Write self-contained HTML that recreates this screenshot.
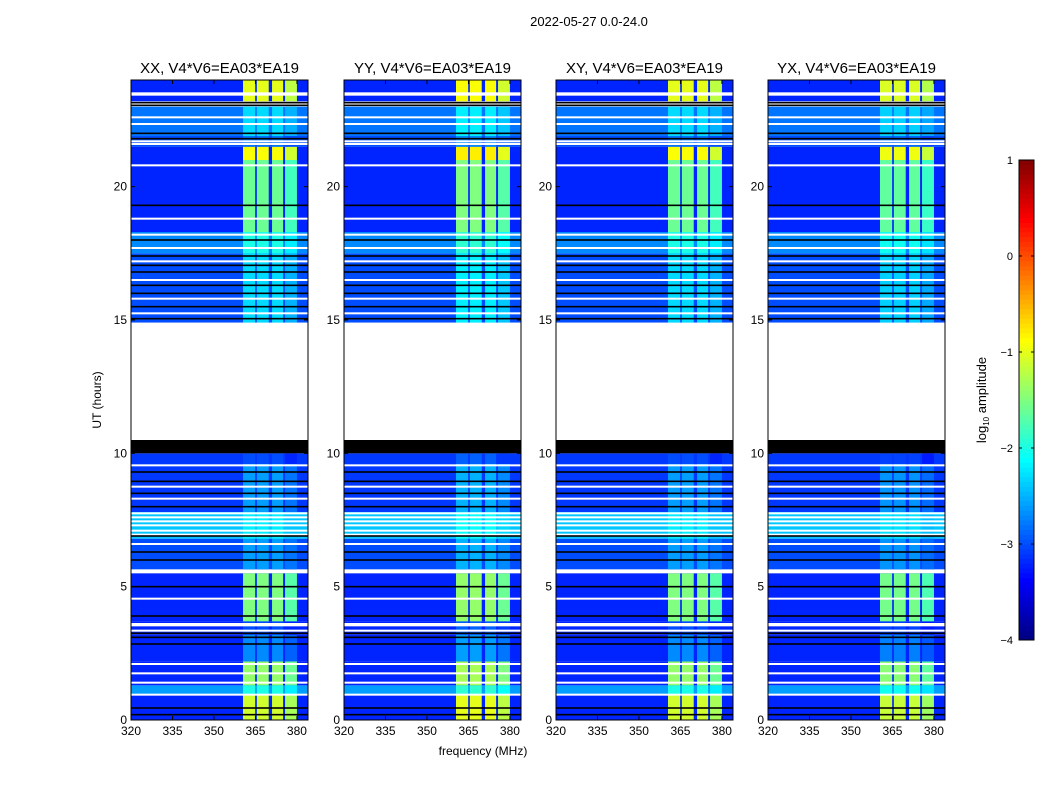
<!DOCTYPE html>
<html><head><meta charset="utf-8"><style>
html,body{margin:0;padding:0;background:#fff;}
svg{display:block;font-family:"Liberation Sans",sans-serif;}
</style></head><body>
<svg id="fig" width="1050" height="800" viewBox="0 0 1050 800">
<text x="589" y="26" font-size="13" text-anchor="middle">2022-05-27 0.0-24.0</text>
<text x="483" y="755" font-size="12" text-anchor="middle">frequency (MHz)</text>
<text transform="translate(101,400) rotate(-90)" font-size="12" text-anchor="middle">UT (hours)</text>
<g id="panels"></g>
<g id="cbar"></g>
</svg>
<script>
// ---- data ----
const panelTitles = ["XX, V4*V6=EA03*EA19","YY, V4*V6=EA03*EA19","XY, V4*V6=EA03*EA19","YX, V4*V6=EA03*EA19"];
const panelOffsets = [0, 0.1, 0, -0.05];
// time segments: start hour, end hour, background log amp, band log amp
const segStart = [0.0, 0.95, 1.3, 2.2, 3.2, 3.7, 5.65, 6.8, 7.8, 9.6, 14.9, 17.5, 18.3, 21.0, 21.5, 21.9, 23.2];
const segEnd   = [0.95, 1.3, 2.2, 3.2, 3.7, 5.5, 6.8, 7.8, 9.6, 10.0, 17.5, 18.3, 21.0, 21.5, 21.9, 23.0, 24.0];
const segBg    = [-3.2, -2.6, -3.2, -3.2, -3.2, -3.2, -3.0, -2.4, -3.1, -3.1, -3.0, -2.7, -3.2, -3.2, -3.0, -2.8, -3.2];
const segBand  = [-1.1, -2.0, -1.4, -2.7, -3.0, -1.5, -2.6, -2.2, -2.6, -3.0, -2.3, -2.0, -1.6, -0.9, -2.8, -2.3, -1.0];
// sub-band frequency edges (MHz)
const bandLo = [360.5, 365.5, 371.0, 375.7];
const bandHi = [364.9, 369.8, 375.0, 380.0];
// flagged rows (white) and zero rows (black), hours
const whiteLines = [0.95, 1.4, 1.75, 2.1, 3.35, 3.55, 3.6, 4.55, 5.55, 5.6, 6.6, 6.95, 7.1, 7.3, 7.45, 7.6, 7.75, 8.3, 8.75, 9.55, 15.25, 15.8, 16.5, 17.2, 17.7, 18.2, 18.8, 20.8, 21.6, 21.7, 22.35, 22.6, 23.45, 23.5];
const blackLines = [0.2, 0.45, 2.85, 3.1, 3.25, 3.9, 5.0, 6.0, 6.3, 6.9, 8.0, 8.5, 8.95, 9.3, 15.05, 15.5, 16.0, 16.3, 16.8, 17.05, 17.4, 18.0, 19.3, 21.8, 22.0, 23.05, 23.15];
const blackBlockStart = [10.0];
const blackBlockEnd = [10.5];
const blankStart = [10.5];
const blankEnd = [14.9];
const xTicks = [320, 335, 350, 365, 380];
const yTicks = [0, 5, 10, 15, 20];
const cbTicks = [1, 0, -1, -2, -3, -4];

// ---- geometry ----
const panelLeft = [131, 344, 556, 768];
const PW = 177, PT = 80, PB = 720;
const F0 = 320, F1 = 384, T0 = 0, T1 = 24;
const NS = "http://www.w3.org/2000/svg";
function jet(v){ // v in [-4,1]
  let t = Math.max(0, Math.min(1, (v + 4) / 5));
  const f = x => Math.max(0, Math.min(1, x));
  const r = f(1.5 - Math.abs(4*t - 3)), g = f(1.5 - Math.abs(4*t - 2)), b = f(1.5 - Math.abs(4*t - 1));
  return `rgb(${Math.round(r*255)},${Math.round(g*255)},${Math.round(b*255)})`;
}
function mk(tag, attrs, parent){ const e = document.createElementNS(NS, tag); for (const k in attrs) e.setAttribute(k, attrs[k]); parent.appendChild(e); return e; }
const panels = document.getElementById('panels');
panelTitles.forEach((title, p) => {
  const x0 = panelLeft[p];
  const xs = f => x0 + (f - F0) / (F1 - F0) * PW;
  const ys = t => PB - (t - T0) / (T1 - T0) * (PB - PT);
  const g = mk('g', {}, panels);
  
  
  const hm = mk('g', {}, g);
  
  
  segStart.forEach((s, i) => {
    const y1 = ys(segEnd[i]), y2 = ys(s);
    const r = mk('rect', {x: xs(F0), y: y1, width: xs(F1) - xs(F0), height: y2 - y1, fill: jet(segBg[i])}, hm);
    
    
    bandLo.forEach((lo, b) => {
      const v = segBand[i] + panelOffsets[p] + (b === 3 ? -0.2 : 0);
      const br = mk('rect', {x: xs(lo), y: y1, width: xs(bandHi[b]) - xs(lo), height: y2 - y1, fill: jet(v)}, hm);
      
      
    });
  });
  whiteLines.forEach(t => {
    const l = mk('rect', {x: xs(F0), y: ys(t) - 1, width: PW, height: 2, fill: '#fff'}, hm);
    
    
  });
  blackLines.forEach(t => {
    const l = mk('rect', {x: xs(F0), y: ys(t) - 0.8, width: PW, height: 1.6, fill: '#000'}, hm);
    
    
  });
  blackBlockStart.forEach((s, i) => {
    const l = mk('rect', {x: xs(F0), y: ys(blackBlockEnd[i]), width: PW, height: ys(s) - ys(blackBlockEnd[i]), fill: '#000'}, hm);
    
    
  });
  blankStart.forEach((s, i) => {
    const l = mk('rect', {x: xs(F0), y: ys(blankEnd[i]), width: PW, height: ys(s) - ys(blankEnd[i]), fill: '#fff'}, hm);
    
    
  });
  const fr = mk('rect', {x: x0, y: PT, width: PW, height: PB - PT, fill: 'none', stroke: '#000', 'stroke-width': 1}, g);
  
  
  const tt = mk('text', {x: x0 + PW/2, y: 73, 'font-size': 15, 'text-anchor': 'middle'}, g);
  tt.textContent = title;
  
  
  xTicks.forEach(f => {
    const x = xs(f);
    mk('line', {x1: x, x2: x, y1: PB, y2: PB - 4, stroke: '#000'}, g);
    mk('line', {x1: x, x2: x, y1: PT, y2: PT + 4, stroke: '#000'}, g);
    const tl = mk('text', {x: x, y: PB + 15, 'font-size': 12, 'text-anchor': 'middle'}, g);
    tl.textContent = f;
    
    
  });
  yTicks.forEach(t => {
    const y = ys(t);
    mk('line', {x1: x0, x2: x0 + 4, y1: y, y2: y, stroke: '#000'}, g);
    mk('line', {x1: x0 + PW, x2: x0 + PW - 4, y1: y, y2: y, stroke: '#000'}, g);
    const tl = mk('text', {x: x0 - 4, y: y + 4, 'font-size': 12, 'text-anchor': 'end'}, g);
    tl.textContent = t;
    
    
  });
});
// ---- colorbar ----
const cb = document.getElementById('cbar');


const CX = 1019, CW = 15, CT = 160, CB = 640;
const cy = v => CB - (v + 4) / 5 * (CB - CT);
for (let i = 0; i < 100; i++) {
  const v0 = -4 + i * 0.05;
  mk('rect', {x: CX, y: cy(v0 + 0.05), width: CW, height: cy(v0) - cy(v0 + 0.05) + 0.5, fill: jet(v0 + 0.025)}, cb);
}
mk('rect', {x: CX, y: CT, width: CW, height: CB - CT, fill: 'none', stroke: '#000'}, cb);
cbTicks.forEach(v => {
  const y = cy(v);
  mk('line', {x1: CX, x2: CX + 3, y1: y, y2: y, stroke: '#000'}, cb);
  mk('line', {x1: CX + CW, x2: CX + CW - 3, y1: y, y2: y, stroke: '#000'}, cb);
  const tl = mk('text', {x: 1013, y: y + 4, 'font-size': 11, 'text-anchor': 'end'}, cb);
  tl.textContent = v < 0 ? '\u2212' + (-v) : String(v);
  
  
});
const cl = mk('text', {transform: 'translate(986,400) rotate(-90)', 'font-size': 13, 'text-anchor': 'middle'}, cb);
cl.innerHTML = 'log<tspan font-size="8" dy="3">10</tspan><tspan dy="-3"> amplitude</tspan>';


</script>
</body></html>
